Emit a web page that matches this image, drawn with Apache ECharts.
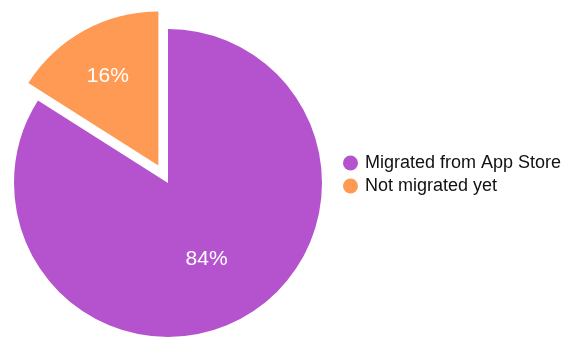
<!DOCTYPE html>
<html>
<head>
<meta charset="utf-8">
<script src="https://cdn.jsdelivr.net/npm/echarts@6/dist/echarts.min.js"></script>
<style>
  html, body { margin: 0; padding: 0; background: #fff; }
  #chart { width: 577px; height: 354px; }
</style>
</head>
<body>
<div id="chart"></div>
<script>
// chart data
const categories = ['Migrated from App Store', 'Not migrated yet'];
const shares = [84, 16];
const colors = ['#b553ce', '#ff9a55'];

const chart = echarts.init(document.getElementById('chart'));

const option = {
    animation: false,
    textStyle: { fontFamily: 'Liberation Sans, Arial, sans-serif' },
    legend: {
        orient: 'vertical',
        left: 338,
        top: 149,
        icon: 'circle',
        itemWidth: 15,
        itemHeight: 15,
        itemGap: 5,
        selectedMode: false,
        textStyle: {
            fontSize: 18,
            color: '#111',
            padding: [0, 0, 0, 2]
        },
        data: categories
    },
    series: [
        {
            type: 'pie',
            center: [168, 183],
            radius: [0, 154],
            startAngle: 90,
            clockwise: true,
            selectedMode: 'single',
            selectedOffset: 20,
            silent: true,
            label: {
                show: true,
                position: 'inside',
                formatter: '{c}%',
                color: '#fff',
                fontSize: 21,
                fontFamily: 'Liberation Sans, Arial, sans-serif'
            },
            labelLayout: function (params) {
                // nudge labels to where they sit in the original
                if (params.dataIndex === 1) return { dx: -12, dy: -19 };
                return { dx: 0, dy: 6 };
            },
            labelLine: { show: false },
            data: categories.map((name, i) => ({
                name: name,
                value: shares[i],
                selected: i === 1,
                itemStyle: { color: colors[i] }
            }))
        }
    ]
};

chart.setOption(option);
</script>
</body>
</html>
